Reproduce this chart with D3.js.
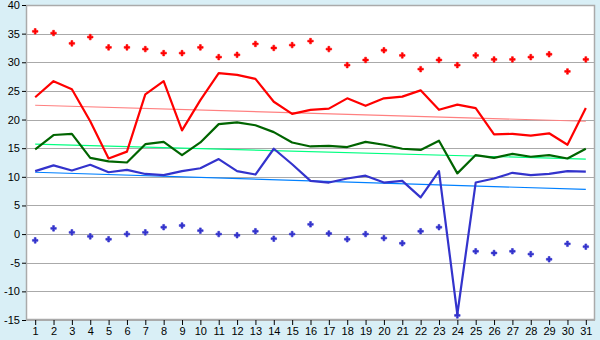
<!DOCTYPE html>
<html lang="en">
<head>
    <meta charset="UTF-8">
    <title>Daily values</title>
    <script src="https://d3js.org/d3.v7.min.js"></script>
    <style>
        body {
            margin: 0;
            background: #d9eff6;
            font-family: "DejaVu Sans", Verdana, sans-serif;
        }
        .tick text {
            font-size: 11px;
            fill: #000;
        }
    </style>
</head>
<body>
    <div id="chart"></div>

    <script>
        const days = d3.range(1, 32);
        const yTicks = [-15, -10, -5, 0, 5, 10, 15, 20, 25, 30, 35, 40];

        const redDots = [35.4, 35.1, 33.3, 34.4, 32.6, 32.6, 32.3, 31.6, 31.6, 32.6, 30.9, 31.3, 33.2, 32.5, 33.0, 33.7,
            32.3, 29.5, 30.4, 32.1, 31.2, 28.8, 30.4, 29.5, 31.2, 30.5, 30.5, 30.9, 31.4, 28.4, 30.5];
        const redLine = [23.9, 26.7, 25.3, 19.7, 13.2, 14.4, 24.4, 26.7, 18.1, 23.4, 28.1, 27.8, 27.1, 23.1, 21.0, 21.7,
            21.9, 23.7, 22.4, 23.7, 24.0, 25.1, 21.7, 22.6, 22.0, 17.4, 17.5, 17.2, 17.6, 15.6, 22.0];
        const greenLine = [14.8, 17.3, 17.5, 13.3, 12.7, 12.5, 15.7, 16.1, 13.8, 16.0, 19.2, 19.5, 19.0, 17.8, 16.0, 15.3,
            15.4, 15.2, 16.1, 15.6, 14.9, 14.7, 16.3, 10.6, 13.8, 13.3, 14.0, 13.5, 13.8, 13.2, 14.9];
        const blueLine = [11.0, 12.0, 11.1, 12.1, 10.8, 11.2, 10.5, 10.3, 11.0, 11.5, 13.1, 11.0, 10.4, 14.9, 12.2, 9.3,
            9.0, 9.7, 10.2, 9.0, 9.3, 6.4, 11.0, -14.0, 9.0, 9.7, 10.7, 10.3, 10.5, 11.0, 10.9];
        const blueDots = [-1.1, 1.0, 0.3, -0.4, -0.9, 0.0, 0.3, 1.2, 1.5, 0.6, 0.0, -0.2, 0.5, -0.8, 0.0, 1.7,
            0.1, -0.9, 0.0, -0.7, -1.6, 0.5, 1.2, -14.2, -3.0, -3.3, -3.0, -3.5, -4.4, -1.7, -2.2];

        // trend lines: value at day 1 and day 31
        const redTrend = [22.5, 19.7];
        const greenTrend = [15.7, 13.1];
        const blueTrend = [10.8, 7.8];

        const width = 600, height = 340;
        const margin = { top: 5, right: 5, bottom: 20, left: 26 };

        const svg = d3.select("#chart").append("svg")
            .attr("width", width).attr("height", height);

        const x = d3.scaleBand().domain(days).range([margin.left, width - margin.right]);
        const cx = d => x(d) + x.bandwidth() / 2;
        const y = d3.scaleLinear().domain([-15, 40]).range([height - margin.bottom, margin.top]);

        // plot area
        svg.append("rect")
            .attr("x", margin.left).attr("y", margin.top)
            .attr("width", width - margin.left - margin.right)
            .attr("height", height - margin.top - margin.bottom)
            .attr("fill", "#fff");

        // grid
        svg.append("g").selectAll("line")
            .data(yTicks).enter().append("line")
            .attr("x1", margin.left).attr("x2", width - margin.right)
            .attr("y1", d => Math.round(y(d)) + 0.5).attr("y2", d => Math.round(y(d)) + 0.5)
            .attr("stroke", "#aaa");

        svg.append("rect")
            .attr("x", margin.left + 0.5).attr("y", margin.top + 0.5)
            .attr("width", width - margin.left - margin.right - 1)
            .attr("height", height - margin.top - margin.bottom - 1)
            .attr("fill", "none").attr("stroke", "#aaa").attr("stroke-width", 1.5);

        // axes
        const yAxis = svg.append("g")
            .attr("transform", `translate(${margin.left},0)`)
            .call(d3.axisLeft(y).tickValues(yTicks).tickSize(4).tickPadding(2).tickFormat(d => d3.format("")(d).replace("\u2212", "-")));
        yAxis.select(".domain").attr("stroke", "#aaa");
        yAxis.selectAll(".tick line").attr("stroke", "#000");

        const xAxis = svg.append("g")
            .attr("transform", `translate(0,${height - margin.bottom})`)
            .call(d3.axisBottom(d3.scalePoint().domain(days).range([cx(1), cx(31)])).tickSize(5).tickPadding(2));
        xAxis.select(".domain").remove();
        xAxis.selectAll(".tick line").attr("stroke", "#000");

        const line = d3.line().x((d, i) => cx(days[i])).y(d => y(d));

        function trend(vals, color) {
            svg.append("line")
                .attr("x1", cx(1)).attr("x2", cx(31))
                .attr("y1", y(vals[0])).attr("y2", y(vals[1]))
                .attr("stroke", color).attr("stroke-width", 1.2);
        }

        trend(redTrend, "#ff8080");
        trend(greenTrend, "#00ff80");
        trend(blueTrend, "#0080ff");

        [[redLine, "#ff0000"], [greenLine, "#006400"], [blueLine, "#3333cc"]].forEach(([vals, color]) => {
            svg.append("path")
                .datum(vals)
                .attr("d", line)
                .attr("fill", "none")
                .attr("stroke", color)
                .attr("stroke-width", 2.2)
                .attr("stroke-linejoin", "round");
        });

        const cross = d3.symbol().type(d3.symbolCross).size(17);
        [[redDots, "#ff0000"], [blueDots, "#3333cc"]].forEach(([vals, color]) => {
            svg.append("g").selectAll("path")
                .data(vals).enter().append("path")
                .attr("d", cross)
                .attr("transform", (d, i) => `translate(${cx(days[i])},${y(d)})`)
                .attr("fill", color)
                .attr("stroke", color)
                .attr("stroke-width", 0.6);
        });
    </script>
</body>
</html>
